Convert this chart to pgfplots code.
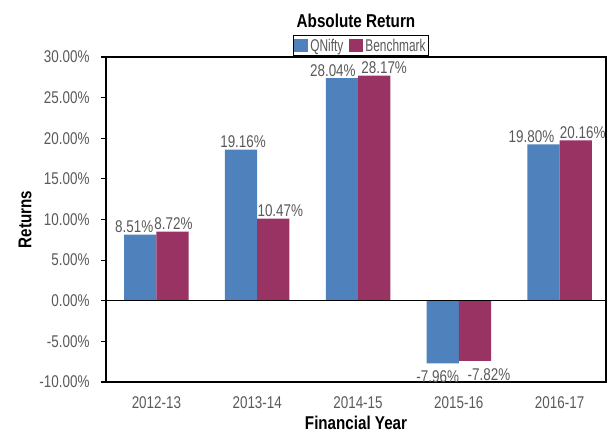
\documentclass[border=0pt]{standalone}
\usepackage{pgfplots}
\pgfplotsset{compat=1.18}
\usepackage{fontspec}
\setmainfont[FakeStretch=0.70]{Liberation Sans}
\newfontfamily\numfont[FakeStretch=0.79]{Liberation Sans}
\newfontfamily\titlefont[FakeStretch=0.82]{Liberation Sans}
\definecolor{qblue}{HTML}{4F81BD}
\definecolor{qmaroon}{HTML}{983364}
\definecolor{tgrey}{HTML}{595959}
\pgfplotstableread{
x y lab dx dy
0 8.15 8.51 -6 0
1 18.6 19.16 2 0
2 27.4 28.04 -9 0
3 -7.7 -7.96 -5 -6
4 19.26 19.80 -12 0
}\qnifty
\pgfplotstableread{
x y lab dx dy
0 8.5 8.72 1 0
1 10.1 10.47 7 0
2 27.7 28.17 10 0
3 -7.4 -7.82 14 -6
4 19.75 20.16 7 0
}\bench
\begin{document}
\begin{tikzpicture}
\useasboundingbox (-106pt,-54pt) rectangle (506pt,382pt);
\begin{axis}[
  at={(0pt,0pt)}, anchor=south west,
  scale only axis, width=500pt, height=325pt,
  ybar=0pt, bar width=0.32,
  xmin=-0.5, xmax=4.46,
  ymin=-10, ymax=30,
  xtick={0,1,2,3,4},
  xticklabels={2012-13,2013-14,2014-15,2015-16,2016-17},
  ytick={-10,-5,0,5,10,15,20,25,30},
  yticklabels={-10.00\%,-5.00\%,0.00\%,5.00\%,10.00\%,15.00\%,20.00\%,25.00\%,30.00\%},
  ytick pos=left,
  axis line style={line width=1.6pt, black},
  tick align=outside,
  major tick length=5pt,
  ytick style={line width=1.2pt, black},
  xtick style={draw=none},
  y tick label style={font=\numfont\fontsize{17}{20}\selectfont, text=tgrey, xshift=-8pt},
  x tick label style={font=\numfont\fontsize{17}{20}\selectfont, text=tgrey, yshift=-6pt},
  title={Absolute Return},
  title style={font=\titlefont\bfseries\fontsize{18.6}{22}\selectfont, at={(0.5,1)}, anchor=center, yshift=30pt},
  xlabel={Financial Year},
  xlabel style={font=\titlefont\bfseries\fontsize{18.5}{22}\selectfont, at={(axis description cs:0.5,-0.126)}, anchor=center},
  ylabel={Returns},
  ylabel style={font=\titlefont\bfseries\fontsize{18.5}{22}\selectfont, at={(axis description cs:-0.162,0.5)}, anchor=center},
  point meta=explicit,
  visualization depends on={\thisrow{dx} \as \labdx},
  visualization depends on={\thisrow{dy} \as \labdy},
  nodes near coords={\pgfmathprintnumber[fixed,fixed zerofill,precision=2,assume math mode=true]{\pgfplotspointmeta}\%},
  every node near coord/.append style={font=\numfont\fontsize{17}{20}\selectfont, text=tgrey, inner sep=1.5pt, xshift=\labdx pt, yshift=\labdy pt},
  legend style={at={(0.51,1)}, anchor=south, yshift=1pt, draw=black, line width=0.8pt,
    font=\fontsize{17}{20}\selectfont, text=tgrey, inner sep=1pt,
    legend columns=2, /tikz/every even column/.append style={column sep=4pt}},
  legend image code/.code={\fill[#1] (0pt,-6.5pt) rectangle (14pt,7pt);},
  clip=false,
]
\addplot[fill=qblue, draw=none] table[x=x, y=y, meta=lab] {\qnifty};
\addplot[fill=qmaroon, draw=none] table[x=x, y=y, meta=lab] {\bench};
\legend{QNifty, Benchmark}
\draw[line width=1.4pt, black] (axis cs:-0.5,0) -- (axis cs:4.46,0);
\end{axis}
\end{tikzpicture}
\end{document}
